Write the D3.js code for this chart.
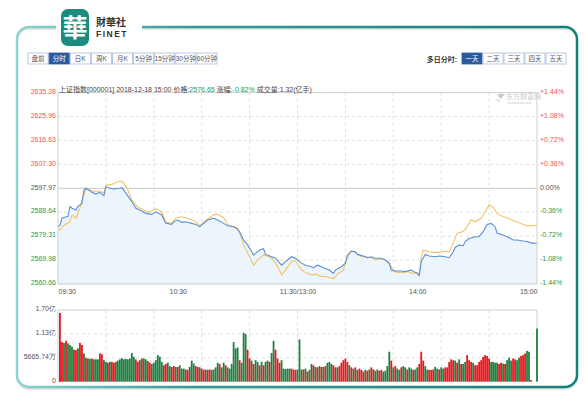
<!DOCTYPE html>
<html>
<head>
<meta charset="utf-8">
<script src="https://cdn.jsdelivr.net/npm/d3@7/dist/d3.min.js"></script>
<style>
  body{margin:0;background:#fff;}
  svg{display:block;font-family:"Liberation Sans","Noto Sans CJK SC",Arial,sans-serif;}
</style>
</head>
<body>
<div id="chart"></div>
<script>
// price line: [minute from 09:30, price]
var priceData = [[0,2583.0],[1,2583.6],[2,2586.3],[4,2586.9],[5,2586.9],[6,2590.9],[7,2590.2],[9,2589.5],[10,2590.9],[12,2592.1],[13,2597.3],[14,2598.0],[16,2597.0],[17,2596.4],[19,2595.7],[21,2596.4],[22,2595.7],[23,2595.1],[24,2598.6],[26,2598.0],[28,2597.7],[31,2598.0],[32,2598.2],[34,2596.1],[37,2592.8],[39,2590.2],[42,2589.1],[44,2588.2],[47,2587.8],[49,2588.8],[52,2587.6],[54,2584.3],[57,2583.9],[58,2584.9],[60,2585.6],[62,2584.7],[64,2584.9],[67,2584.3],[69,2583.9],[71,2583.0],[73,2584.3],[75,2585.6],[78,2586.3],[80,2585.6],[83,2584.3],[85,2583.4],[88,2583.0],[89,2582.6],[91,2581.1],[93,2577.8],[95,2575.9],[98,2572.0],[99,2572.6],[101,2573.9],[103,2574.4],[104,2572.2],[107,2571.3],[109,2570.7],[112,2568.0],[114,2569.4],[117,2571.3],[119,2570.7],[122,2568.8],[124,2568.0],[127,2567.4],[128,2567.0],[130,2568.0],[132,2567.4],[133,2567.0],[136,2566.1],[138,2564.8],[139,2566.1],[142,2567.4],[144,2568.8],[145,2572.0],[147,2573.5],[149,2573.2],[150,2572.2],[153,2571.6],[155,2570.9],[157,2571.3],[159,2570.7],[162,2570.7],[164,2570.0],[166,2568.8],[167,2566.1],[169,2565.7],[172,2565.7],[174,2565.5],[177,2566.1],[179,2565.2],[180,2564.8],[181,2563.9],[182,2569.4],[184,2572.2],[186,2571.6],[189,2571.3],[191,2571.6],[194,2571.3],[196,2570.9],[198,2573.2],[199,2574.9],[201,2575.9],[203,2575.6],[204,2577.2],[206,2578.4],[209,2579.1],[211,2579.1],[213,2581.1],[215,2583.9],[217,2584.3],[219,2583.0],[220,2580.4],[223,2579.8],[225,2579.1],[228,2577.8],[230,2577.8],[233,2577.4],[235,2577.2],[238,2576.5],[240,2576.65]];

// average line: [minute, price]
var avgData = [[0,2582.0],[1,2581.7],[3,2583.6],[6,2584.9],[7,2587.6],[9,2586.3],[11,2590.2],[12,2593.4],[14,2597.7],[16,2597.3],[18,2596.7],[21,2596.9],[23,2596.1],[24,2599.2],[27,2599.5],[29,2600.3],[32,2600.8],[33,2599.9],[35,2597.3],[37,2593.4],[40,2590.5],[42,2590.0],[45,2588.6],[47,2589.1],[49,2590.0],[52,2588.8],[54,2584.9],[57,2584.3],[59,2586.3],[62,2586.9],[64,2586.5],[67,2585.6],[69,2584.9],[71,2583.4],[73,2584.9],[76,2586.5],[78,2587.6],[80,2587.8],[83,2586.5],[85,2583.9],[88,2583.0],[90,2582.4],[92,2578.4],[93,2575.9],[96,2571.3],[98,2568.0],[100,2570.0],[103,2572.0],[106,2571.3],[108,2570.0],[111,2566.1],[112,2564.2],[114,2566.1],[117,2569.4],[119,2569.7],[122,2566.1],[124,2565.2],[127,2564.2],[129,2564.5],[132,2563.6],[134,2563.6],[138,2562.8],[140,2564.5],[143,2566.1],[144,2569.4],[147,2573.5],[149,2573.0],[152,2571.3],[154,2571.3],[157,2570.9],[159,2570.0],[162,2570.4],[164,2570.0],[167,2567.4],[168,2565.7],[170,2565.2],[173,2565.2],[175,2565.5],[178,2564.8],[180,2565.2],[181,2564.2],[182,2570.7],[183,2573.9],[186,2573.2],[188,2573.0],[191,2573.0],[194,2573.5],[196,2573.2],[198,2576.5],[200,2580.5],[203,2581.1],[205,2583.0],[207,2585.7],[209,2584.9],[212,2586.3],[214,2588.8],[216,2591.5],[218,2590.5],[220,2588.2],[223,2586.9],[225,2586.5],[228,2585.3],[230,2584.9],[233,2583.9],[235,2583.4],[238,2583.4],[240,2583.6]];

// volume per minute (亿), 241 minutes
var volumes = [
1.63,0.94,0.94,0.92,0.97,0.91,0.87,0.83,0.76,0.75,
0.79,0.92,0.87,0.67,0.57,0.55,0.54,0.55,0.53,0.53,
0.53,0.67,0.65,0.51,0.47,0.45,0.47,0.47,0.45,0.47,
0.50,0.53,0.56,0.53,0.54,0.53,0.55,0.68,0.59,0.53,
0.47,0.51,0.55,0.55,0.53,0.49,0.45,0.42,0.45,0.51,
0.63,0.59,0.47,0.39,0.42,0.45,0.37,0.35,0.37,0.35,
0.35,0.39,0.31,0.31,0.29,0.28,0.35,0.50,0.43,0.37,
0.35,0.34,0.31,0.28,0.29,0.28,0.29,0.28,0.29,0.34,
0.45,0.42,0.34,0.45,0.39,0.34,0.31,0.42,0.94,0.79,
0.81,0.51,0.45,1.16,1.13,0.76,0.55,0.50,0.42,0.51,
0.47,0.39,0.47,0.39,0.47,0.50,0.47,0.68,0.97,0.76,
0.55,0.45,0.51,0.31,0.30,0.31,0.31,0.31,0.29,0.28,
0.29,
1.00,0.29,0.29,0.31,0.24,0.28,0.42,0.39,0.35,0.34,
0.37,0.35,0.35,0.37,0.45,0.47,0.42,0.39,0.34,0.34,
0.37,0.45,0.51,0.55,0.47,0.39,0.34,0.31,0.34,0.28,
0.31,0.28,0.24,0.28,0.26,0.29,0.34,0.29,0.26,0.29,
0.26,0.28,0.24,0.26,0.37,0.71,0.50,0.34,0.37,0.31,
0.28,0.34,0.37,0.34,0.29,0.34,0.31,0.28,0.29,0.34,
0.42,0.71,0.50,0.37,0.29,0.28,0.28,0.29,0.35,0.31,
0.29,0.34,0.31,0.34,0.34,0.47,0.53,0.51,0.50,0.45,
0.53,0.42,0.42,0.47,0.63,0.51,0.47,0.45,0.39,0.39,
0.47,0.51,0.59,0.63,0.61,0.55,0.47,0.47,0.45,0.45,
0.42,0.45,0.43,0.42,0.51,0.57,0.50,0.55,0.53,0.51,
0.57,0.61,0.63,0.67,0.73,0.71,
0.04,0,0,1.26];

// 1 = up (red), 0 = down (green)
var volUp = [
1,1,1,0,1,0,0,0,1,1,
0,1,1,0,1,0,0,1,0,0,
0,1,1,0,0,1,0,1,1,0,
0,0,0,0,0,0,0,0,0,1,
1,0,1,0,0,1,1,0,0,0,
0,0,0,1,1,0,0,1,1,0,
1,0,0,0,1,1,0,0,0,1,
1,0,1,1,0,1,1,0,0,0,
0,1,0,0,1,0,0,0,0,0,
0,1,0,0,0,1,1,0,1,0,
0,1,0,1,0,0,1,0,0,1,
1,1,0,0,0,0,0,1,1,1,
0,
0,0,1,0,1,0,0,1,0,1,
0,1,0,1,0,0,0,1,1,0,
1,1,1,1,1,0,1,0,1,0,
1,1,1,0,1,0,1,1,0,0,
1,1,0,0,0,0,1,0,1,0,
0,1,0,0,1,0,0,1,0,0,
1,1,1,0,0,1,1,1,0,0,
1,0,0,1,1,1,1,1,0,1,
0,1,0,0,1,1,1,0,1,1,
1,1,1,1,1,1,0,0,0,0,
1,1,0,1,0,0,0,1,1,0,
0,1,1,1,0,0,
1,1,1,0];

var priceTicks = [2635.28,2625.96,2616.63,2607.30,2597.97,2588.64,2579.31,2569.98,2560.66];
var pctTicks = ["+1.44%","+1.08%","+0.72%","+0.36%","0.00%","-0.36%","-0.72%","-1.08%","-1.44%"];
var timeTicks = [0,60,120,180,240];
var timeLabels = ["09:30","10:30","11:30/13:00","14:00","15:00"];
var gridMinutes = [24,48,72,96,120,144,168,192,216];
var volTicks = [1.70,1.1333,0.5667,0];
var volLabels = ["1.70亿","1.13亿","5665.74万","0"];
var periodTabs = ["盘前","分时","日K","周K","月K","5分钟","15分钟","30分钟","60分钟"];
var dayTabs = ["一天","二天","三天","四天","五天"];
var prevClose = 2597.97;

var W = 586, H = 396;
var RED = "#e8181d", GREEN = "#1f8140", LBL_RED = "#f25454", LBL_GREEN = "#2b9a4b";

var svg = d3.select('#chart').append('svg').attr('width',W).attr('height',H);

// frame
var defs = svg.append('defs');
var grad = defs.append('linearGradient').attr('id','frameGrad')
    .attr('gradientUnits','userSpaceOnUse').attr('x1',17).attr('x2',577).attr('y1',0).attr('y2',0);
grad.append('stop').attr('offset','0%').attr('stop-color','#8ed3ce');
grad.append('stop').attr('offset','30%').attr('stop-color','#2f9d96');
grad.append('stop').attr('offset','100%').attr('stop-color','#137f79');

var fL = 17, fR = 577, fT = 27, fB = 387, r = 12;
function framePath(dy){
  var p = d3.path();
  p.moveTo(56, fT+dy);
  p.lineTo(fL+r, fT+dy);
  p.arcTo(fL, fT+dy, fL, fT+r+dy, r);
  p.lineTo(fL, fB-r+dy);
  p.arcTo(fL, fB+dy, fL+r, fB+dy, r);
  p.lineTo(fR-r, fB+dy);
  p.arcTo(fR, fB+dy, fR, fB-r+dy, r);
  p.lineTo(fR, fT+r+dy);
  p.arcTo(fR, fT+dy, fR-r, fT+dy, r);
  p.lineTo(142, fT+dy);
  return p.toString();
}
svg.append('path').attr('d',framePath(2)).attr('fill','none').attr('stroke','#e4e4e4').attr('stroke-width',2);
svg.append('path').attr('d',framePath(0)).attr('fill','none').attr('stroke','url(#frameGrad)').attr('stroke-width',2.5);

// logo
svg.append('rect').attr('x',61).attr('y',9).attr('width',28).attr('height',37).attr('rx',7).attr('fill','#1c8a7e');
svg.append('text').attr('x',75).attr('y',37).attr('text-anchor','middle')
    .style('font-family','"Noto Sans CJK TC"').style('font-size','25px').style('font-weight','bold')
    .attr('fill','#fff').text('華');
svg.append('text').attr('x',96).attr('y',26).style('font-family','"Noto Sans CJK TC"')
    .style('font-size','10px').style('font-weight','bold').attr('fill','#333').text('財華社');
svg.append('text').attr('x',96).attr('y',37).style('font-size','8.5px').style('font-weight','bold')
    .style('letter-spacing','1.5px').attr('fill','#333').text('FINET');

// tabs
function drawTabs(labels, x0, x1, selected){
  var band = d3.scaleBand().domain(labels).range([x0,x1]);
  var g = svg.append('g');
  var tab = g.selectAll('g').data(labels).enter().append('g')
      .attr('transform',function(d){return 'translate('+band(d)+',53)';});
  tab.append('rect').attr('width',band.bandwidth()-1).attr('height',11)
      .attr('fill',function(d){return d===selected?'#2d5a9c':'#fff';})
      .attr('stroke',function(d){return d===selected?'#2d5a9c':'#a9bbdb';}).attr('stroke-width',0.8);
  tab.append('text').attr('x',band.bandwidth()/2-0.5).attr('y',8.3).attr('text-anchor','middle')
      .style('font-size','6.5px').attr('fill',function(d){return d===selected?'#fff':'#555';}).text(function(d){return d;});
}
drawTabs(periodTabs, 28, 218, '分时');
drawTabs(dayTabs, 462, 567, '一天');
svg.append('text').attr('x',457).attr('y',61.5).attr('text-anchor','end')
    .style('font-size','7px').style('font-weight','bold').attr('fill','#333').text('多日分时:');

// price chart
var x = d3.scaleLinear().domain([0,240]).range([58,537]);
var y = d3.scaleLinear().domain([2560.66,2635.28]).range([284,92.6]);
var yTop = y.range()[1], yBot = y.range()[0];

var plot = svg.append('g');
// horizontal grid
plot.selectAll('.hgrid').data(priceTicks.slice(1,-1)).enter().append('line')
    .attr('x1',58).attr('x2',537)
    .attr('y1',function(d){return y(d);}).attr('y2',function(d){return y(d);})
    .attr('stroke',function(d){return d===prevClose?'#c8c8c8':'#dedede';})
    .attr('stroke-dasharray',function(d){return d===prevClose?null:'3,3';});
plot.selectAll('.vgrid').data(gridMinutes).enter().append('line')
    .attr('x1',function(d){return x(d);}).attr('x2',function(d){return x(d);})
    .attr('y1',yTop).attr('y2',yBot).attr('stroke','#dedede').attr('stroke-dasharray','3,3');

// watermark
var wm = plot.append('g').attr('fill','#c9c9c9');
wm.append('path').attr('d','M497,95 q4,-3 8,0 q-3,1 -4,4 q-2,-2 -4,-4 z M496,99 q3,0 5,3 q-3,0 -5,-3z');
wm.append('text').attr('x',506).attr('y',99).style('font-size','7px').text('东方财富网');
wm.append('text').attr('x',507).attr('y',104).style('font-size','3.5px').text('eastmoney.com');

// area + lines
var area = d3.area().x(function(d){return x(d[0]);}).y0(yBot).y1(function(d){return y(d[1]);});
plot.append('path').datum(priceData).attr('d',area).attr('fill','#edf5fc');
var line = d3.line().x(function(d){return x(d[0]);}).y(function(d){return y(d[1]);});
plot.append('path').datum(avgData).attr('d',line).attr('fill','none').attr('stroke','#f1c36a').attr('stroke-width',1.1);
plot.append('path').datum(priceData).attr('d',line).attr('fill','none').attr('stroke','#5a8fd2').attr('stroke-width',1.1);

// border
plot.append('rect').attr('x',58).attr('y',yTop).attr('width',479).attr('height',yBot-yTop)
    .attr('fill','none').attr('stroke','#cfcfcf').attr('stroke-width',1);

// left axis
function tickColor(d){ return d>prevClose?LBL_RED:(d<prevClose?LBL_GREEN:'#555'); }
var axL = svg.append('g').attr('transform','translate(56,0)')
    .call(d3.axisLeft(y).tickValues(priceTicks).tickFormat(function(d){return d.toFixed(2);}).tickSize(0).tickPadding(0));
axL.select('.domain').remove();
axL.selectAll('text').attr('dy','0.1em').attr('fill',tickColor).style('font-size','7px').style('font-family','"Liberation Sans",Arial');

// right axis
var axR = svg.append('g').attr('transform','translate(540,0)')
    .call(d3.axisRight(y).tickValues(priceTicks).tickFormat(function(d,i){return pctTicks[i];}).tickSize(0).tickPadding(0));
axR.select('.domain').remove();
axR.selectAll('text').attr('dy','0.1em').attr('fill',tickColor).style('font-size','7px').style('font-family','"Liberation Sans",Arial');

// time axis
var axB = svg.append('g').attr('transform','translate(0,'+yBot+')')
    .call(d3.axisBottom(x).tickValues(timeTicks).tickFormat(function(d,i){return timeLabels[i];}).tickSize(0).tickPadding(5));
axB.select('.domain').remove();
axB.selectAll('text').attr('fill','#555').style('font-size','7px').style('font-family','"Liberation Sans",Arial')
    .attr('text-anchor',function(d,i){return i===0?'start':(i===timeTicks.length-1?'end':'middle');});

// header text
var hdr = svg.append('text').attr('x',59).attr('y',91.5).style('font-size','7px').attr('fill','#444');
hdr.append('tspan').text('上证指数[000001] 2018-12-18 15:00 价格:');
hdr.append('tspan').attr('fill',LBL_GREEN).text('2576.65');
hdr.append('tspan').text(' 涨幅:');
hdr.append('tspan').attr('fill',LBL_GREEN).text('-0.82%');
hdr.append('tspan').text(' 成交量:1.32(亿手)');

// volume chart
var v = d3.scaleLinear().domain([0,1.70]).range([381.7,310]);
var vol = svg.append('g');
vol.selectAll('.vh').data(volTicks.slice(1,3)).enter().append('line')
    .attr('x1',58).attr('x2',537).attr('y1',function(d){return v(d);}).attr('y2',function(d){return v(d);})
    .attr('stroke','#dedede').attr('stroke-dasharray','3,3');
vol.selectAll('.vv').data(gridMinutes).enter().append('line')
    .attr('x1',function(d){return x(d);}).attr('x2',function(d){return x(d);})
    .attr('y1',310).attr('y2',381.7).attr('stroke','#dedede').attr('stroke-dasharray','3,3');
vol.append('path').attr('d','M58,381.7 V310 H537 V381.7').attr('fill','none').attr('stroke','#cfcfcf');

vol.selectAll('.bar').data(volumes).enter().append('rect')
    .attr('x',function(d,i){return Math.max(x(i)-0.9, 59);})
    .attr('width',1.8)
    .attr('y',function(d){return v(d);})
    .attr('height',function(d){return v(0)-v(d);})
    .attr('fill',function(d,i){return volUp[i]?RED:GREEN;});

var axV = svg.append('g').attr('transform','translate(56,0)')
    .call(d3.axisLeft(v).tickValues(volTicks).tickFormat(function(d,i){return volLabels[i];}).tickSize(0).tickPadding(0));
axV.select('.domain').remove();
axV.selectAll('text').attr('dy','0.1em').attr('fill','#555').style('font-size','7px');
</script>
</body>
</html>
